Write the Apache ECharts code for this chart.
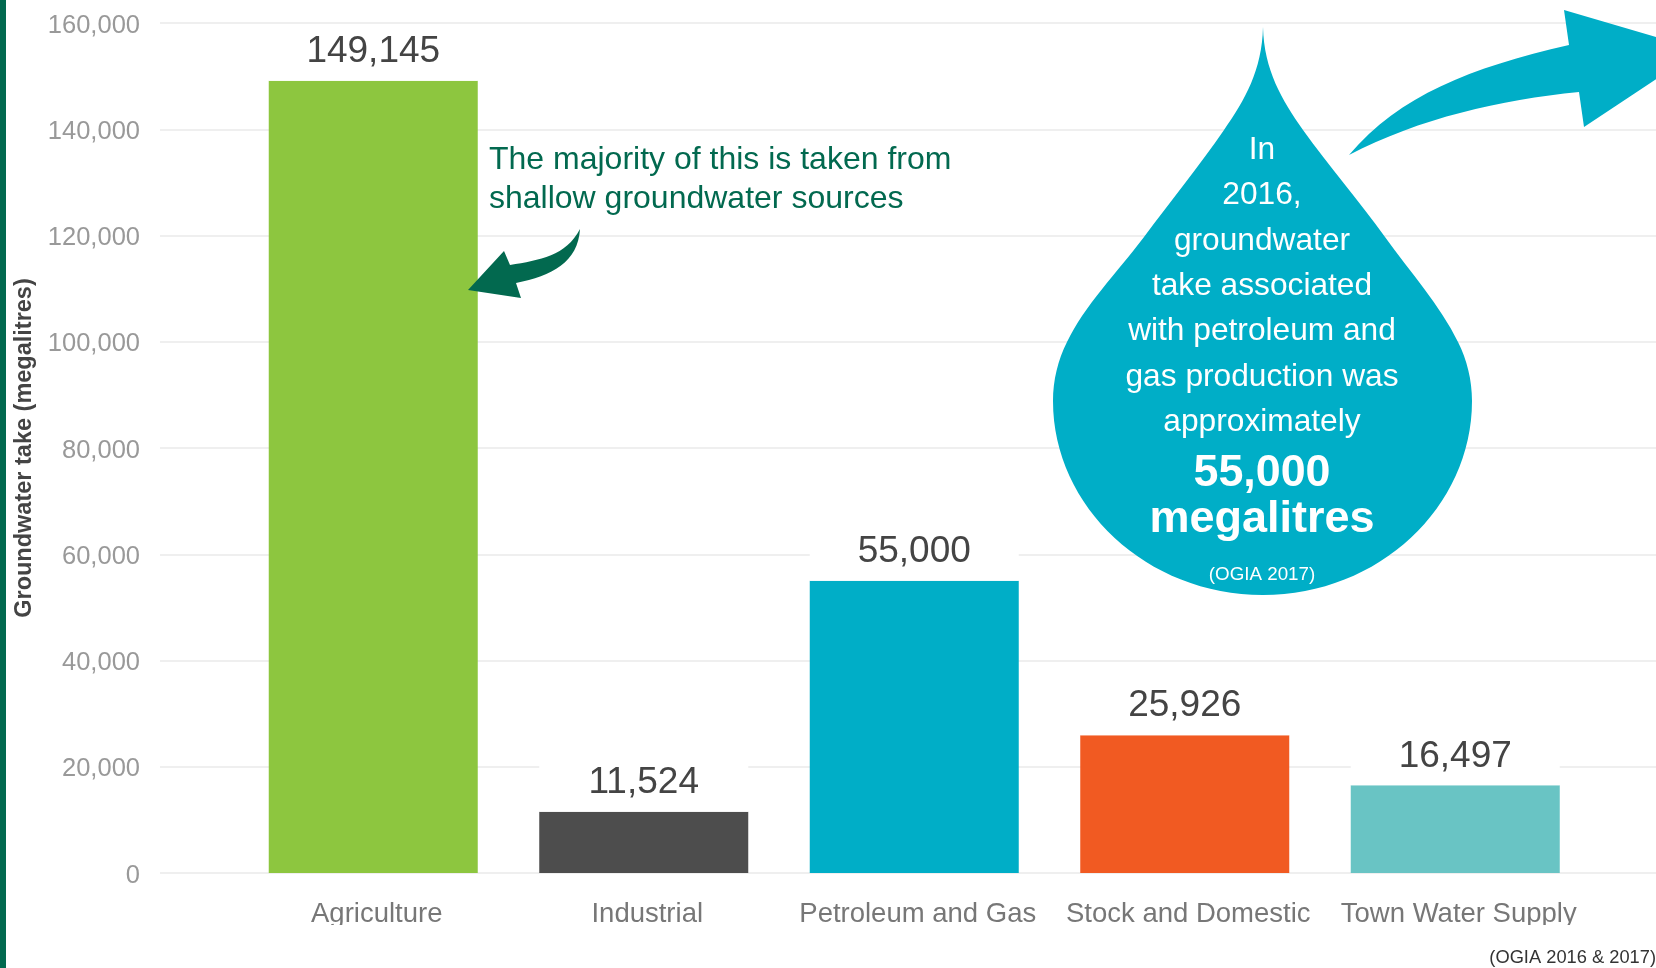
<!DOCTYPE html>
<html><head><meta charset="utf-8">
<style>html,body{margin:0;padding:0;background:#fff}#c{width:1656px;height:968px}</style>
<script src="https://cdn.jsdelivr.net/npm/echarts@6/dist/echarts.min.js"></script>
</head><body><div id="c"></div>
<script>
const categories = ['Agriculture','Industrial','Petroleum and Gas','Stock and Domestic','Town Water Supply'];
const takeValues = [149145,11524,55000,25926,16497];
const barColors = ['#8DC63F','#4D4D4D','#00AEC7','#F15A22','#69C4C4'];
const yTicks = {min:0,max:160000,interval:20000};
const yAxisTitle = 'Groundwater take (megalitres)';
const noteLines = 'The majority of this is taken from\nshallow groundwater sources';
const dropLines = ['In','2016,','groundwater','take associated','with petroleum and','gas production was','approximately'];
const dropLineY = [150,195,241,286,331,377,422];
const fmt = v => v.toLocaleString('en-US');
const FONT = '"Liberation Sans", Arial, sans-serif';
const TEAL = '#00AEC7', GREEN = '#02694F';

const dropPath = 'M1263,27 C1262,70 1245,100 1224,130 C1200,165 1170,202 1144,237 C1115,275 1085,305 1067,342 C1058,360 1053,380 1053,401 C1053,507 1147,595 1263,595 C1379,595 1472,507 1472,401 C1472,380 1467,360 1458,342 C1440,305 1410,272 1385,237 C1360,202 1328,165 1303,130 C1282,100 1264,70 1263,27 Z';
const bigArrowPath = 'M1349,155 C1400,95 1470,68 1569,45 L1564,10 L1700,50 L1584,127 L1579,92 C1500,100 1420,118 1349,155 Z';
const greenArrowPath = 'M580,229 C566,256 540,260 510,265 L504,251 L468,290 L521,298 L516,283 C552,276 578,262 580,229 Z';
echarts.graphic.registerShape('dropShape', echarts.graphic.extendPath(dropPath, {}));
echarts.graphic.registerShape('bigArrowShape', echarts.graphic.extendPath(bigArrowPath, {}));
echarts.graphic.registerShape('greenArrowShape', echarts.graphic.extendPath(greenArrowPath, {}));

const graphics = [
  {type:'rect',z:50,shape:{x:0,y:0,width:6,height:968},style:{fill:GREEN}},
  {type:'rect',z:50,shape:{x:150,y:925,width:1506,height:16},style:{fill:'#fff'}},
  {type:'dropShape',z:50,style:{fill:TEAL}},
  {type:'bigArrowShape',z:50,style:{fill:TEAL}},
  {type:'greenArrowShape',z:50,style:{fill:GREEN}},
  {type:'text',z:51,x:489,y:140,style:{text:noteLines,font:'32px '+FONT,fill:GREEN,lineHeight:39.5,textAlign:'left',textVerticalAlign:'top'}},
  {type:'text',z:51,x:1656,y:958,style:{text:'(OGIA 2016 & 2017)',font:'18.3px '+FONT,fill:'#333',textAlign:'right',textVerticalAlign:'middle'}},
  ...dropLines.map((t,i)=>({type:'text',z:51,x:1262,y:dropLineY[i],style:{text:t,font:'31.7px '+FONT,fill:'#fff',textAlign:'center',textVerticalAlign:'middle'}})),
  {type:'text',z:51,x:1262,y:474,style:{text:'55,000',font:'bold 44.8px '+FONT,fill:'#fff',textAlign:'center',textVerticalAlign:'middle'}},
  {type:'text',z:51,x:1262,y:520,style:{text:'megalitres',font:'bold 45px '+FONT,fill:'#fff',textAlign:'center',textVerticalAlign:'middle'}},
  {type:'text',z:51,x:1262,y:575,style:{text:'(OGIA 2017)',font:'18.8px '+FONT,fill:'#fff',textAlign:'center',textVerticalAlign:'middle'}}
];

const chart = echarts.init(document.getElementById('c'),null,{renderer:'canvas'});
chart.setOption({
  animation:false,
  backgroundColor:'#fff',
  grid:[
    {left:160,right:0,top:23,height:850,outerBoundsMode:'none'},
    {left:238,width:1352.5,top:23,height:850,outerBoundsMode:'none'}
  ],
  xAxis:[
    {gridIndex:0,type:'value',show:false,min:0,max:1},
    {gridIndex:1,type:'category',data:categories,axisLine:{show:false},axisTick:{show:false},
     axisLabel:{interval:0,margin:27,fontFamily:FONT,fontSize:27.5,color:'#777',padding:[0,0,0,7]}}
  ],
  yAxis:[
    {gridIndex:0,type:'value',min:yTicks.min,max:yTicks.max,interval:yTicks.interval,
     name:yAxisTitle,nameLocation:'middle',nameGap:114,
     nameTextStyle:{fontFamily:FONT,fontSize:23.5,fontWeight:'bold',color:'#444'},
     axisLine:{show:false},axisTick:{show:false},
     axisLabel:{margin:20,fontFamily:FONT,fontSize:25.5,color:'#999',formatter:fmt,verticalAlign:'top',lineHeight:5},
     splitLine:{lineStyle:{color:'#efefef',width:2}}},
    {gridIndex:1,type:'value',min:yTicks.min,max:yTicks.max,interval:yTicks.interval,show:false,splitLine:{show:false}}
  ],
  series:[{
    type:'bar',xAxisIndex:1,yAxisIndex:1,barWidth:209,
    data:takeValues.map((v,i)=>({value:v,itemStyle:{color:barColors[i]}})),
    label:{show:true,position:'top',distance:0,formatter:p=>fmt(p.value),
      fontFamily:FONT,fontSize:37,color:'#444',lineHeight:38,width:209,align:'center',
      backgroundColor:'#fff',padding:[6,0,10,0]}
  }],
  graphic:graphics
});
</script></body></html>
